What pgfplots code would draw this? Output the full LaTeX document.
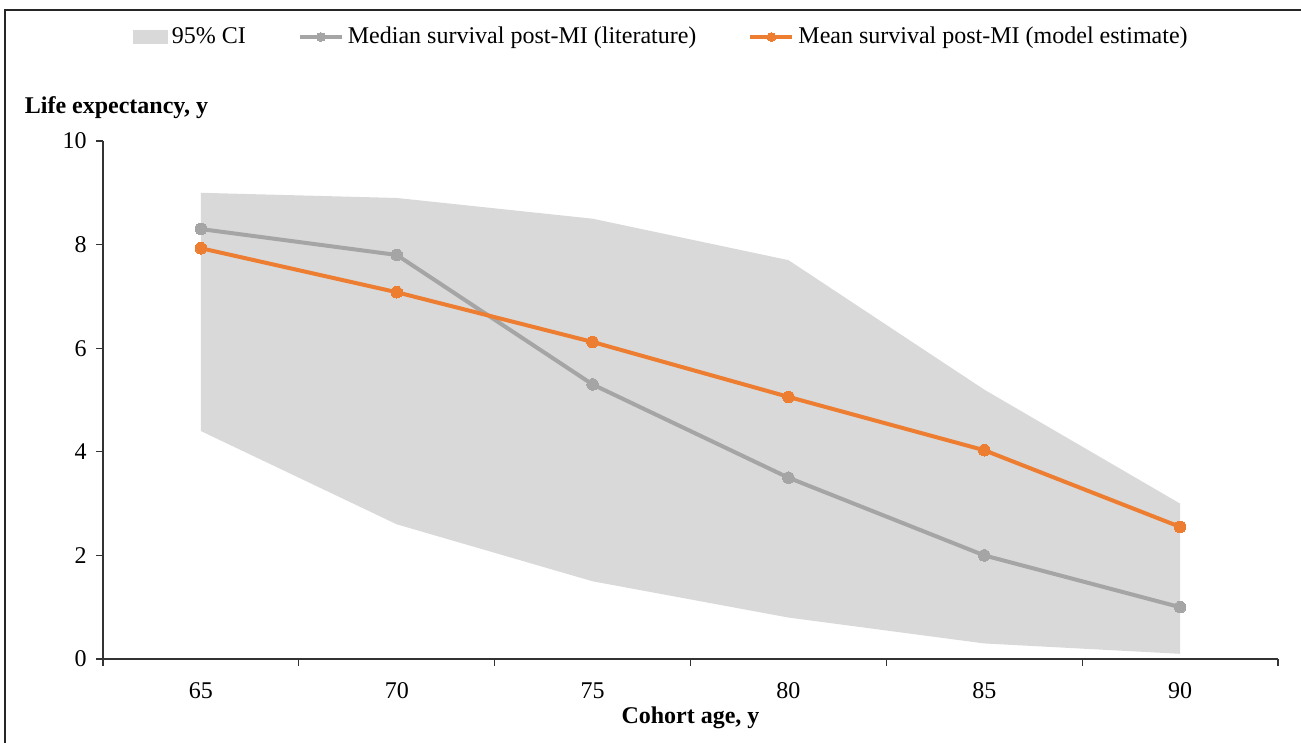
\documentclass[border=0pt]{standalone}
\usepackage{pgfplots}
\pgfplotsset{compat=1.18}
\usepackage{fontspec}
\setmainfont{Liberation Serif}
\definecolor{cigrey}{HTML}{D9D9D9}
\definecolor{medgrey}{HTML}{A5A5A5}
\definecolor{morange}{HTML}{ED7D31}
\pgfplotsset{
  myline legend/.style={legend image code/.code={\draw[mark repeat=2,mark phase=2,##1,mark size=2.2pt] plot coordinates {(0pt,0pt) (10.5pt,0pt) (21pt,0pt)};}},
  myarea legend/.style={legend image code/.code={\fill[cigrey] (0pt,-3.5pt) rectangle (17.5pt,3.5pt);}}
}
\begin{document}
\fontsize{12}{14}\selectfont
\begin{tikzpicture}
\useasboundingbox (0,0) rectangle (650.5pt,371.5pt);
\draw[line width=1pt, black!85] (2.5pt,0pt) -- (2.5pt,366.5pt) -- (650.5pt,366.5pt);
\begin{axis}[
  at={(51.5pt,42pt)}, anchor=south west,
  width=587.5pt, height=259pt, scale only axis,
  xmin=62.5, xmax=92.5, ymin=0, ymax=10,
  axis x line*=bottom, axis y line*=left,
  axis line style={black!80, line width=0.6pt},
  xtick={65,70,...,90},
  minor xtick={62.5,67.5,...,92.5},
  major x tick style={draw=none},
  minor x tick style={black!80, line width=0.6pt},
  minor tick length=3.5pt,
  ytick={0,2,...,10},
  major tick length=3.5pt,
  y tick style={black!80, line width=0.6pt},
  tick align=outside,
  tick label style={font=\fontsize{12}{14}\selectfont},
  /pgf/number format/assume math mode=true,
  xticklabel style={yshift=-4pt},
  yticklabel style={xshift=-0.5pt},
  xlabel={Cohort age, y},
  ylabel={Life expectancy, y},
  every axis x label/.style={at={(axis description cs:0.5,-0.1139)}, anchor=center, font=\fontsize{12}{14}\selectfont\bfseries},
  every axis y label/.style={at={(axis description cs:0.0115,1.0637)}, anchor=center, font=\fontsize{12}{14}\selectfont\bfseries},
  legend style={at={(axis description cs:0.476,1.2008)}, anchor=center, draw=none, fill=none,
    font=\fontsize{12}{14}\selectfont, inner sep=0pt,
    /tikz/every even column/.append style={column sep=24pt},
    nodes={inner sep=2pt}},
  legend columns=3,
]
\addplot[fill=cigrey, draw=none, myarea legend] coordinates {
  (65,9.0) (70,8.9) (75,8.5) (80,7.7) (85,5.2) (90,3.0)
  (90,0.1) (85,0.3) (80,0.8) (75,1.5) (70,2.6) (65,4.4)
} -- cycle;
\addlegendentry{95\% CI}
\addplot[medgrey, line width=2pt, mark=*, mark size=2.9pt, mark options={fill=medgrey, draw=medgrey, line width=0pt}, myline legend] coordinates {
  (65,8.3) (70,7.8) (75,5.3) (80,3.5) (85,2.0) (90,1.0)
};
\addlegendentry{Median survival post-MI (literature)}
\addplot[morange, line width=2pt, mark=*, mark size=2.9pt, mark options={fill=morange, draw=morange, line width=0pt}, myline legend] coordinates {
  (65,7.93) (70,7.08) (75,6.12) (80,5.06) (85,4.03) (90,2.55)
};
\addlegendentry{Mean survival post-MI (model estimate)}
\end{axis}
\end{tikzpicture}
\end{document}
